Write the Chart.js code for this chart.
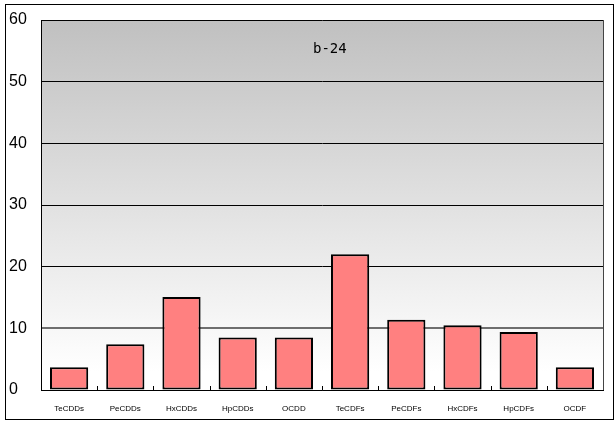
<!DOCTYPE html>
<html>
<head>
<meta charset="utf-8">
<script src="https://cdn.jsdelivr.net/npm/chart.js@4/dist/chart.umd.min.js"></script>
<style>
    html, body { margin: 0; padding: 0; background: #ffffff; }
    #chartBox { width: 614px; height: 421px; }
</style>
</head>
<body>
<div id="chartBox"><canvas id="dioxinChart" width="614" height="421"></canvas></div>
<script>
// ======================
// DATA
// ======================
const categories = [
    "TeCDDs", "PeCDDs", "HxCDDs", "HpCDDs", "OCDD",
    "TeCDFs", "PeCDFs", "HxCDFs", "HpCDFs", "OCDF"
];

const values = [3.7, 7.4, 15.1, 8.5, 8.5, 22, 11.4, 10.5, 9.4, 3.7];

const yTicks = [0, 10, 20, 30, 40, 50, 60];

const sampleName = "b-24";

// ======================
// PLUGINS
// ======================
const plotBackground = {
    id: "plotBackground",
    beforeDraw(chart) {
        const ctx = chart.ctx;
        const a = chart.chartArea;

        ctx.save();
        ctx.fillStyle = "#ffffff";
        ctx.fillRect(0, 0, chart.width, chart.height);

        const grad = ctx.createLinearGradient(0, a.top, 0, a.bottom);
        grad.addColorStop(0, "#c0c0c0");
        grad.addColorStop(0.95, "#ffffff");
        grad.addColorStop(1, "#ffffff");
        ctx.fillStyle = grad;
        ctx.fillRect(a.left, a.top, a.right - a.left, a.bottom - a.top);

        // outer frame
        ctx.strokeStyle = "#000000";
        ctx.lineWidth = 1;
        ctx.strokeRect(5.5, 4.5, 608, 415);
        ctx.restore();
    }
};

const plotExtras = {
    id: "plotExtras",
    afterDraw(chart) {
        const ctx = chart.ctx;
        const a = chart.chartArea;
        const x = chart.scales.x;

        ctx.save();
        // right edge of plot
        ctx.strokeStyle = "#444444";
        ctx.lineWidth = 1;
        ctx.beginPath();
        ctx.moveTo(Math.round(a.right) + 0.5, a.top);
        ctx.lineTo(Math.round(a.right) + 0.5, a.bottom);
        ctx.stroke();

        // small inward ticks between categories
        ctx.strokeStyle = "#000000";
        for (let i = 1; i < categories.length; i++) {
            const px = (x.getPixelForValue(i - 1) + x.getPixelForValue(i)) / 2;
            ctx.beginPath();
            ctx.moveTo(Math.round(px) + 0.5, a.bottom - 4);
            ctx.lineTo(Math.round(px) + 0.5, a.bottom);
            ctx.stroke();
        }

        // sample name inside the plot
        ctx.fillStyle = "#000000";
        ctx.font = "14px 'DejaVu Sans Mono'";
        ctx.textAlign = "left";
        ctx.textBaseline = "alphabetic";
        ctx.fillText(sampleName, 313, 53);
        ctx.restore();
    }
};

// ======================
// CHART
// ======================
new Chart(
    document.getElementById("dioxinChart"),
    {
        type: "bar",

        data: {
            labels: categories,

            datasets: [{
                data: values,
                backgroundColor: "#ff8080",
                borderColor: "#000000",
                borderWidth: 2,
                borderSkipped: false,
                barPercentage: 0.68,
                categoryPercentage: 1
            }]
        },

        options: {
            responsive: false,
            animation: false,

            layout: {
                padding: { top: 20, right: 11, bottom: 0, left: 9 }
            },

            plugins: {
                legend: { display: false },
                title: { display: false },
                tooltip: { enabled: false }
            },

            scales: {
                x: {
                    grid: {
                        display: false,
                        drawTicks: false
                    },
                    border: {
                        display: true,
                        color: "#000000",
                        width: 1
                    },
                    ticks: {
                        padding: 14,
                        color: "#000000",
                        maxRotation: 0,
                        autoSkip: false,
                        font: { family: "'Liberation Sans', Arial, sans-serif", size: 8 }
                    },
                    afterFit(scale) {
                        scale.height = 31;
                    }
                },

                y: {
                    min: 0,
                    max: 60,
                    afterBuildTicks(scale) {
                        scale.ticks = yTicks.map(v => ({ value: v }));
                    },
                    grid: {
                        color: ctx => ctx.tick && ctx.tick.value === 10 ? "#6e6e6e" : "#000000",
                        lineWidth: ctx => ctx.tick && ctx.tick.value === 10 ? 2 : 1,
                        drawTicks: false
                    },
                    border: {
                        display: true,
                        color: "#000000",
                        width: 1
                    },
                    ticks: {
                        crossAlign: "far",
                        padding: 0,
                        color: "#000000",
                        font: { family: "'Liberation Sans', Arial, sans-serif", size: 16 }
                    },
                    afterFit(scale) {
                        scale.width = 32;
                    }
                }
            }
        },

        plugins: [plotBackground, plotExtras]
    }
);
</script>
</body>
</html>
